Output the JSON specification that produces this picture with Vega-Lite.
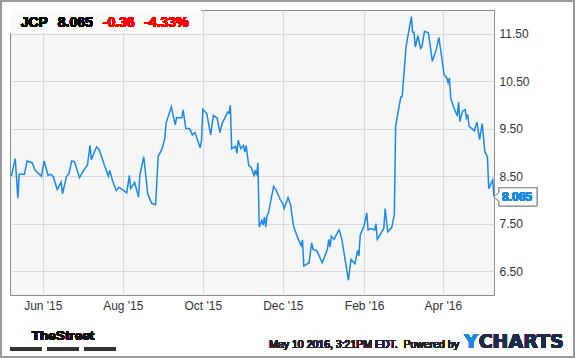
{
  "$schema": "https://vega.github.io/schema/vega-lite/v6.json",
  "autosize": {"type": "none"},
  "width": 484,
  "height": 285,
  "padding": {"left": 10, "top": 10, "right": 81, "bottom": 63},
  "background": "white",
  "config": {
    "view": {"fill": "#f6f6f6", "stroke": "#8c8c8c", "strokeWidth": 1},
    "axis": {"labelFont": "Liberation Sans", "labelFontSize": 12, "labelColor": "#333333", "gridColor": "#d9d9d9", "gridWidth": 1, "domain": false, "ticks": false, "title": null},
    "text": {"stroke": null, "strokeWidth": 0}
  },
  "data": {"values": [
    {"date": "2015-05-08", "price": 8.50},
    {"date": "2015-05-11", "price": 8.87},
    {"date": "2015-05-13", "price": 8.04},
    {"date": "2015-05-14", "price": 8.54},
    {"date": "2015-05-18", "price": 8.54},
    {"date": "2015-05-20", "price": 8.82},
    {"date": "2015-05-24", "price": 8.78},
    {"date": "2015-05-26", "price": 8.63},
    {"date": "2015-05-31", "price": 8.50},
    {"date": "2015-06-02", "price": 8.82},
    {"date": "2015-06-05", "price": 8.52},
    {"date": "2015-06-07", "price": 8.54},
    {"date": "2015-06-09", "price": 8.49},
    {"date": "2015-06-12", "price": 8.22},
    {"date": "2015-06-15", "price": 8.38},
    {"date": "2015-06-16", "price": 8.13},
    {"date": "2015-06-19", "price": 8.49},
    {"date": "2015-06-21", "price": 8.56},
    {"date": "2015-06-23", "price": 8.82},
    {"date": "2015-06-25", "price": 8.81},
    {"date": "2015-06-29", "price": 8.47},
    {"date": "2015-07-02", "price": 8.62},
    {"date": "2015-07-05", "price": 8.73},
    {"date": "2015-07-07", "price": 9.15},
    {"date": "2015-07-08", "price": 8.85},
    {"date": "2015-07-12", "price": 9.12},
    {"date": "2015-07-14", "price": 9.06},
    {"date": "2015-07-18", "price": 8.73},
    {"date": "2015-07-21", "price": 8.50},
    {"date": "2015-07-22", "price": 8.63},
    {"date": "2015-07-24", "price": 8.42},
    {"date": "2015-07-27", "price": 8.20},
    {"date": "2015-07-29", "price": 8.27},
    {"date": "2015-08-03", "price": 8.17},
    {"date": "2015-08-04", "price": 8.15},
    {"date": "2015-08-06", "price": 8.52},
    {"date": "2015-08-07", "price": 8.24},
    {"date": "2015-08-10", "price": 8.37},
    {"date": "2015-08-13", "price": 8.06},
    {"date": "2015-08-14", "price": 8.52},
    {"date": "2015-08-17", "price": 8.91},
    {"date": "2015-08-20", "price": 8.13},
    {"date": "2015-08-23", "price": 7.93},
    {"date": "2015-08-26", "price": 7.90},
    {"date": "2015-08-28", "price": 8.92},
    {"date": "2015-08-31", "price": 9.08},
    {"date": "2015-09-02", "price": 9.29},
    {"date": "2015-09-03", "price": 9.62},
    {"date": "2015-09-07", "price": 9.96},
    {"date": "2015-09-10", "price": 9.58},
    {"date": "2015-09-11", "price": 9.73},
    {"date": "2015-09-15", "price": 9.73},
    {"date": "2015-09-16", "price": 9.90},
    {"date": "2015-09-18", "price": 9.51},
    {"date": "2015-09-21", "price": 9.50},
    {"date": "2015-09-23", "price": 9.37},
    {"date": "2015-09-25", "price": 9.42},
    {"date": "2015-09-29", "price": 9.10},
    {"date": "2015-09-30", "price": 9.26},
    {"date": "2015-10-01", "price": 9.91},
    {"date": "2015-10-04", "price": 9.82},
    {"date": "2015-10-07", "price": 9.37},
    {"date": "2015-10-09", "price": 9.78},
    {"date": "2015-10-12", "price": 9.72},
    {"date": "2015-10-14", "price": 9.42},
    {"date": "2015-10-16", "price": 9.63},
    {"date": "2015-10-20", "price": 9.85},
    {"date": "2015-10-21", "price": 9.83},
    {"date": "2015-10-22", "price": 9.99},
    {"date": "2015-10-23", "price": 9.08},
    {"date": "2015-10-26", "price": 9.13},
    {"date": "2015-10-27", "price": 8.98},
    {"date": "2015-10-28", "price": 9.26},
    {"date": "2015-10-30", "price": 9.08},
    {"date": "2015-11-01", "price": 9.15},
    {"date": "2015-11-02", "price": 9.01},
    {"date": "2015-11-03", "price": 9.15},
    {"date": "2015-11-05", "price": 8.73},
    {"date": "2015-11-07", "price": 8.68},
    {"date": "2015-11-09", "price": 8.52},
    {"date": "2015-11-10", "price": 8.63},
    {"date": "2015-11-11", "price": 8.52},
    {"date": "2015-11-12", "price": 8.78},
    {"date": "2015-11-13", "price": 7.43},
    {"date": "2015-11-15", "price": 7.57},
    {"date": "2015-11-16", "price": 7.47},
    {"date": "2015-11-17", "price": 7.64},
    {"date": "2015-11-18", "price": 7.43},
    {"date": "2015-11-19", "price": 7.68},
    {"date": "2015-11-20", "price": 7.72},
    {"date": "2015-11-24", "price": 8.29},
    {"date": "2015-11-26", "price": 8.20},
    {"date": "2015-11-29", "price": 8.01},
    {"date": "2015-12-01", "price": 7.92},
    {"date": "2015-12-02", "price": 7.82},
    {"date": "2015-12-05", "price": 8.05},
    {"date": "2015-12-07", "price": 7.89},
    {"date": "2015-12-09", "price": 7.47},
    {"date": "2015-12-11", "price": 7.30},
    {"date": "2015-12-13", "price": 7.16},
    {"date": "2015-12-15", "price": 7.04},
    {"date": "2015-12-16", "price": 7.16},
    {"date": "2015-12-17", "price": 6.61},
    {"date": "2015-12-21", "price": 6.68},
    {"date": "2015-12-23", "price": 7.10},
    {"date": "2015-12-24", "price": 6.96},
    {"date": "2015-12-27", "price": 6.93},
    {"date": "2015-12-31", "price": 6.68},
    {"date": "2016-01-04", "price": 6.96},
    {"date": "2016-01-05", "price": 7.17},
    {"date": "2016-01-06", "price": 7.01},
    {"date": "2016-01-07", "price": 7.24},
    {"date": "2016-01-09", "price": 7.17},
    {"date": "2016-01-12", "price": 7.33},
    {"date": "2016-01-13", "price": 7.37},
    {"date": "2016-01-15", "price": 7.17},
    {"date": "2016-01-18", "price": 6.66},
    {"date": "2016-01-20", "price": 6.31},
    {"date": "2016-01-22", "price": 6.75},
    {"date": "2016-01-25", "price": 6.66},
    {"date": "2016-01-27", "price": 6.94},
    {"date": "2016-01-28", "price": 6.82},
    {"date": "2016-01-29", "price": 7.26},
    {"date": "2016-02-01", "price": 7.47},
    {"date": "2016-02-03", "price": 7.73},
    {"date": "2016-02-04", "price": 7.37},
    {"date": "2016-02-06", "price": 7.40},
    {"date": "2016-02-09", "price": 7.37},
    {"date": "2016-02-10", "price": 7.50},
    {"date": "2016-02-11", "price": 7.17},
    {"date": "2016-02-16", "price": 7.40},
    {"date": "2016-02-17", "price": 7.82},
    {"date": "2016-02-19", "price": 7.33},
    {"date": "2016-02-22", "price": 7.42},
    {"date": "2016-02-24", "price": 7.69},
    {"date": "2016-02-25", "price": 9.55},
    {"date": "2016-02-27", "price": 9.87},
    {"date": "2016-02-29", "price": 10.17},
    {"date": "2016-03-01", "price": 10.18},
    {"date": "2016-03-04", "price": 11.24},
    {"date": "2016-03-08", "price": 11.86},
    {"date": "2016-03-09", "price": 11.53},
    {"date": "2016-03-10", "price": 11.53},
    {"date": "2016-03-11", "price": 11.22},
    {"date": "2016-03-13", "price": 11.46},
    {"date": "2016-03-15", "price": 11.19},
    {"date": "2016-03-16", "price": 11.22},
    {"date": "2016-03-18", "price": 11.55},
    {"date": "2016-03-21", "price": 11.52},
    {"date": "2016-03-24", "price": 10.92},
    {"date": "2016-03-27", "price": 11.17},
    {"date": "2016-03-29", "price": 11.42},
    {"date": "2016-04-02", "price": 10.64},
    {"date": "2016-04-04", "price": 10.57},
    {"date": "2016-04-05", "price": 10.47},
    {"date": "2016-04-06", "price": 10.57},
    {"date": "2016-04-07", "price": 10.15},
    {"date": "2016-04-09", "price": 9.97},
    {"date": "2016-04-12", "price": 9.77},
    {"date": "2016-04-13", "price": 10.06},
    {"date": "2016-04-14", "price": 9.65},
    {"date": "2016-04-16", "price": 9.87},
    {"date": "2016-04-18", "price": 9.90},
    {"date": "2016-04-19", "price": 9.73},
    {"date": "2016-04-20", "price": 9.80},
    {"date": "2016-04-21", "price": 9.55},
    {"date": "2016-04-25", "price": 9.46},
    {"date": "2016-04-27", "price": 9.64},
    {"date": "2016-04-29", "price": 9.27},
    {"date": "2016-05-01", "price": 9.61},
    {"date": "2016-05-03", "price": 9.02},
    {"date": "2016-05-05", "price": 8.91},
    {"date": "2016-05-06", "price": 8.24},
    {"date": "2016-05-09", "price": 8.42},
    {"date": "2016-05-10", "price": 8.065}
  ]},
  "layer": [
    {
      "mark": {"type": "rect", "filled": false, "stroke": "#9a9a9a", "strokeWidth": 2},
      "encoding": {
        "x": {"datum": {"year": 2015, "month": 4, "date": 30, "hours": 3}, "type": "temporal"},
        "x2": {"datum": {"year": 2016, "month": 7, "date": 10}},
        "y": {"datum": 12.189, "type": "quantitative"},
        "y2": {"datum": 4.695}
      }
    },
    {
      "mark": {"type": "rect", "fill": "#fbfbfb", "stroke": null},
      "encoding": {
        "x": {"datum": {"year": 2015, "month": 5, "date": 7}, "type": "temporal"},
        "x2": {"datum": {"year": 2015, "month": 9, "date": 29}},
        "y": {"datum": 12, "type": "quantitative"},
        "y2": {"datum": 11.52}
      }
    },
    {
      "mark": {"type": "line", "color": "#1a8ae8", "strokeWidth": 1.5},
      "encoding": {
        "x": {"field": "date", "type": "temporal",
          "scale": {"domain": [{"year": 2015, "month": 5, "date": 7}, {"year": 2016, "month": 5, "date": 10}], "nice": false},
          "axis": {"orient": "bottom", "grid": true, "format": "%b '%y", "labelPadding": 5,
            "values": [{"year": 2015, "month": 6, "date": 1}, {"year": 2015, "month": 8, "date": 1}, {"year": 2015, "month": 10, "date": 1}, {"year": 2015, "month": 12, "date": 1}, {"year": 2016, "month": 2, "date": 1}, {"year": 2016, "month": 4, "date": 1}]}},
        "y": {"field": "price", "type": "quantitative",
          "scale": {"domain": [6, 12], "nice": false, "zero": false},
          "axis": {"orient": "right", "grid": true, "format": ".2f", "labelPadding": 5, "values": [6.5, 7.5, 8.5, 9.5, 10.5, 11.5]}}
      }
    },
    {
      "mark": {"type": "text", "text": "JCP", "font": "Liberation Sans", "fontWeight": "bold", "fontSize": 14, "align": "left", "baseline": "middle", "fill": "#000000", "stroke": null},
      "encoding": {"x": {"datum": {"year": 2015, "month": 5, "date": 15, "hours": 4}, "type": "temporal"}, "y": {"datum": 11.72, "type": "quantitative"}}
    },
    {
      "mark": {"type": "text", "text": "8.065", "font": "Liberation Sans", "fontWeight": "bold", "fontSize": 14, "align": "left", "baseline": "middle", "fill": "#000000", "stroke": null},
      "encoding": {"x": {"datum": {"year": 2015, "month": 6, "date": 12, "hours": 9}, "type": "temporal"}, "y": {"datum": 11.72, "type": "quantitative"}}
    },
    {
      "mark": {"type": "text", "text": "-0.36", "font": "Liberation Sans", "fontWeight": "bold", "fontSize": 14, "align": "left", "baseline": "middle", "fill": "#ff0000", "stroke": null},
      "encoding": {"x": {"datum": {"year": 2015, "month": 7, "date": 16, "hours": 17}, "type": "temporal"}, "y": {"datum": 11.72, "type": "quantitative"}}
    },
    {
      "mark": {"type": "text", "text": "-4.33%", "font": "Liberation Sans", "fontWeight": "bold", "fontSize": 14, "align": "left", "baseline": "middle", "fill": "#ff0000", "stroke": null},
      "encoding": {"x": {"datum": {"year": 2015, "month": 8, "date": 17, "hours": 5}, "type": "temporal"}, "y": {"datum": 11.72, "type": "quantitative"}}
    },
    {
      "mark": {"type": "point", "shape": "M0,0L0.23,-0.2L0.23,-0.41L1.95,-0.41L1.95,0.41L0.23,0.41L0.23,0.2Z", "size": 1936, "filled": true, "fill": "#ffffff", "stroke": "#9a9a9a", "strokeWidth": 1, "opacity": 1},
      "encoding": {"x": {"datum": {"year": 2016, "month": 5, "date": 10}, "type": "temporal"}, "y": {"datum": 8.065, "type": "quantitative"}}
    },
    {
      "mark": {"type": "text", "text": "8.065", "font": "Liberation Sans", "fontWeight": "bold", "fontSize": 12, "align": "left", "baseline": "middle", "dx": 8, "fill": "#1a8ae8", "stroke": null},
      "encoding": {"x": {"datum": {"year": 2016, "month": 5, "date": 10}, "type": "temporal"}, "y": {"datum": 8.065, "type": "quantitative"}}
    },
    {
      "mark": {"type": "text", "text": "TheStreet", "font": "Liberation Sans", "fontWeight": "bold", "fontSize": 13.5, "align": "center", "baseline": "middle", "fill": "#111111", "stroke": null},
      "encoding": {"x": {"datum": {"year": 2015, "month": 6, "date": 16, "hours": 10}, "type": "temporal"}, "y": {"datum": 5.137, "type": "quantitative"}}
    },
    {
      "mark": {"type": "rule", "color": "#333333", "strokeWidth": 3, "strokeDash": [32, 5]},
      "encoding": {
        "x": {"datum": {"year": 2015, "month": 5, "date": 7}, "type": "temporal"},
        "x2": {"datum": {"year": 2015, "month": 7, "date": 26, "hours": 10}},
        "y": {"datum": 4.863, "type": "quantitative"}
      }
    },
    {
      "mark": {"type": "text", "text": "May 10 2016, 3:21PM EDT.\u00a0 Powered by", "font": "Liberation Sans", "fontSize": 10.5, "align": "right", "baseline": "middle", "fill": "#222222", "stroke": null},
      "encoding": {"x": {"datum": {"year": 2016, "month": 4, "date": 13, "hours": 7}, "type": "temporal"}, "y": {"datum": 4.947, "type": "quantitative"}}
    },
    {
      "mark": {"type": "text", "text": "Y", "font": "DejaVu Sans", "fontWeight": "bold", "fontSize": 19, "align": "left", "baseline": "alphabetic", "fill": "#1a8be0", "stroke": null},
      "encoding": {"x": {"datum": {"year": 2016, "month": 4, "date": 17, "hours": 2}, "type": "temporal"}, "y": {"datum": 4.878, "type": "quantitative"}}
    },
    {
      "mark": {"type": "text", "text": "CHARTS", "font": "DejaVu Sans", "fontWeight": "bold", "fontSize": 19, "align": "left", "baseline": "alphabetic", "dx": 14.7, "fill": "#1c2a48", "stroke": null},
      "encoding": {"x": {"datum": {"year": 2016, "month": 4, "date": 17, "hours": 2}, "type": "temporal"}, "y": {"datum": 4.878, "type": "quantitative"}}
    }
  ]
}
